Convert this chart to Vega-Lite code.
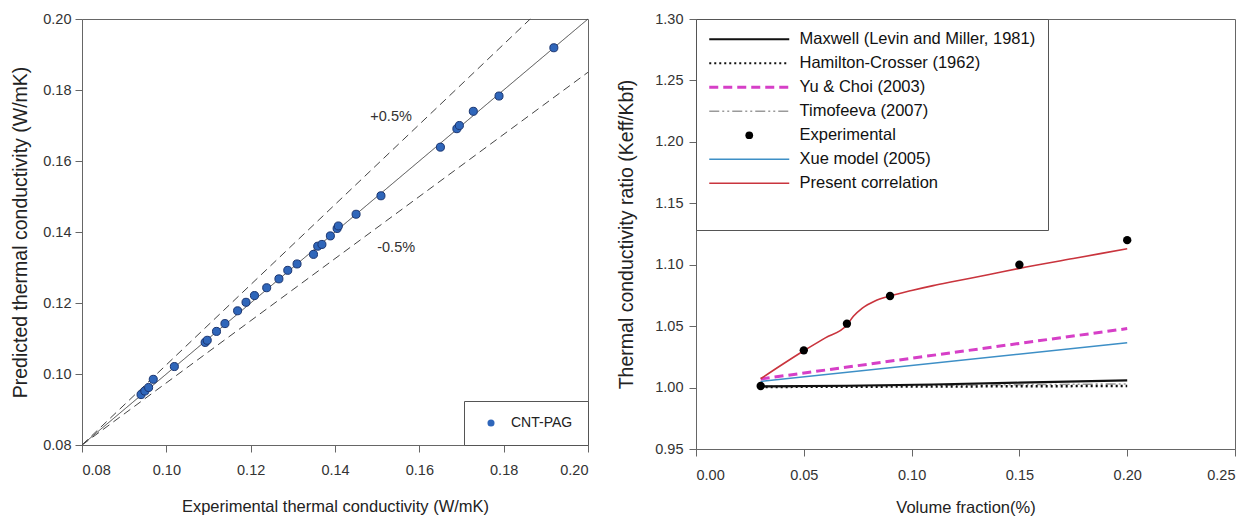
{
  "$schema": "https://vega.github.io/schema/vega-lite/v6.json",
  "background": "white",
  "padding": {"left": 10, "top": 10, "right": 5, "bottom": 0},
  "spacing": 25,
  "resolve": {"scale": {"color": "independent", "strokeDash": "independent"}, "legend": {"color": "independent", "strokeDash": "independent"}},
  "config": {
    "view": {"stroke": "#666", "strokeWidth": 1},
    "axis": {
      "domainColor": "#666", "tickColor": "#666", "tickSize": 7, "grid": false,
      "labelFont": "Liberation Sans", "labelFontSize": 14.5, "labelColor": "#333",
      "titleFont": "Liberation Sans", "titleFontSize": 16.5, "titleFontWeight": "normal", "titleColor": "#222"
    },
    "legend": {"labelFont": "Liberation Sans", "titleFont": "Liberation Sans"}
  },
  "datasets": {
    "refs": [
      {"x": 0.08, "y": 0.08, "line": "center"}, {"x": 0.20, "y": 0.20, "line": "center"},
      {"x": 0.08, "y": 0.08, "line": "upper"}, {"x": 0.1863, "y": 0.20, "line": "upper"},
      {"x": 0.08, "y": 0.08, "line": "lower"}, {"x": 0.20, "y": 0.185, "line": "lower"}
    ],
    "cnt": [
      {"exp": 0.0940, "pred": 0.0942}, {"exp": 0.0949, "pred": 0.0952}, {"exp": 0.0958, "pred": 0.0962},
      {"exp": 0.0969, "pred": 0.0985}, {"exp": 0.1019, "pred": 0.1021}, {"exp": 0.1092, "pred": 0.1089},
      {"exp": 0.1097, "pred": 0.1095}, {"exp": 0.1119, "pred": 0.1120}, {"exp": 0.1139, "pred": 0.1142},
      {"exp": 0.1169, "pred": 0.1178}, {"exp": 0.1189, "pred": 0.1202}, {"exp": 0.1209, "pred": 0.1221},
      {"exp": 0.1238, "pred": 0.1243}, {"exp": 0.1267, "pred": 0.1268}, {"exp": 0.1288, "pred": 0.1292},
      {"exp": 0.1310, "pred": 0.1310}, {"exp": 0.1349, "pred": 0.1337}, {"exp": 0.1359, "pred": 0.1360},
      {"exp": 0.1369, "pred": 0.1365}, {"exp": 0.1389, "pred": 0.1389}, {"exp": 0.1405, "pred": 0.1410},
      {"exp": 0.1408, "pred": 0.1417}, {"exp": 0.1450, "pred": 0.1450}, {"exp": 0.1509, "pred": 0.1502},
      {"exp": 0.1650, "pred": 0.1639}, {"exp": 0.1689, "pred": 0.1691}, {"exp": 0.1695, "pred": 0.1700},
      {"exp": 0.1728, "pred": 0.1740}, {"exp": 0.1789, "pred": 0.1783}, {"exp": 0.1919, "pred": 0.1919}
    ],
    "notes": [
      {"x": 0.1533, "y": 0.1723, "label": "+0.5%"},
      {"x": 0.1545, "y": 0.1355, "label": "-0.5%"}
    ],
    "models": [
      {"vf": 0.03, "k": 1.0008, "model": "Timofeeva (2007)"}, {"vf": 0.20, "k": 1.003, "model": "Timofeeva (2007)"},
      {"vf": 0.03, "k": 1.0005, "model": "Hamilton-Crosser (1962)"}, {"vf": 0.20, "k": 1.0013, "model": "Hamilton-Crosser (1962)"},
      {"vf": 0.03, "k": 1.001, "model": "Maxwell (Levin and Miller, 1981)"}, {"vf": 0.07, "k": 1.0015, "model": "Maxwell (Levin and Miller, 1981)"},
      {"vf": 0.11, "k": 1.0025, "model": "Maxwell (Levin and Miller, 1981)"}, {"vf": 0.15, "k": 1.004, "model": "Maxwell (Levin and Miller, 1981)"},
      {"vf": 0.20, "k": 1.0059, "model": "Maxwell (Levin and Miller, 1981)"},
      {"vf": 0.03, "k": 1.005, "model": "Xue model (2005)"}, {"vf": 0.20, "k": 1.0365, "model": "Xue model (2005)"},
      {"vf": 0.03, "k": 1.007, "model": "Yu & Choi (2003)"}, {"vf": 0.20, "k": 1.048, "model": "Yu & Choi (2003)"},
      {"vf": 0.03, "k": 1.0072, "model": "Present correlation"}, {"vf": 0.04, "k": 1.0188, "model": "Present correlation"},
      {"vf": 0.05, "k": 1.030, "model": "Present correlation"}, {"vf": 0.06, "k": 1.0405, "model": "Present correlation"},
      {"vf": 0.07, "k": 1.051, "model": "Present correlation"}, {"vf": 0.073, "k": 1.058, "model": "Present correlation"},
      {"vf": 0.077, "k": 1.0645, "model": "Present correlation"}, {"vf": 0.083, "k": 1.0705, "model": "Present correlation"},
      {"vf": 0.09, "k": 1.0745, "model": "Present correlation"}, {"vf": 0.10, "k": 1.079, "model": "Present correlation"},
      {"vf": 0.11, "k": 1.083, "model": "Present correlation"}, {"vf": 0.12, "k": 1.0865, "model": "Present correlation"},
      {"vf": 0.136, "k": 1.092, "model": "Present correlation"}, {"vf": 0.15, "k": 1.097, "model": "Present correlation"},
      {"vf": 0.175, "k": 1.105, "model": "Present correlation"}, {"vf": 0.20, "k": 1.113, "model": "Present correlation"}
    ],
    "experimental": [
      {"vf": 0.03, "k": 1.0013, "model": "Experimental"}, {"vf": 0.05, "k": 1.0303, "model": "Experimental"},
      {"vf": 0.07, "k": 1.052, "model": "Experimental"}, {"vf": 0.09, "k": 1.0745, "model": "Experimental"},
      {"vf": 0.15, "k": 1.100, "model": "Experimental"}, {"vf": 0.20, "k": 1.120, "model": "Experimental"}
    ]
  },
  "hconcat": [
    {
      "width": 506,
      "height": 426,
      "encoding": {
        "x": {"type": "quantitative", "scale": {"domain": [0.08, 0.2], "nice": false, "zero": false},
              "axis": {"title": "Experimental thermal conductivity (W/mK)", "values": [0.08, 0.1, 0.12, 0.14, 0.16, 0.18, 0.2], "format": ".2f", "labelPadding": 11, "titlePadding": 22}},
        "y": {"type": "quantitative", "scale": {"domain": [0.08, 0.2], "nice": false, "zero": false},
              "axis": {"title": "Predicted thermal conductivity (W/mK)", "values": [0.08, 0.1, 0.12, 0.14, 0.16, 0.18, 0.2], "format": ".2f", "labelPadding": 4, "titlePadding": 12, "titleFontSize": 19.5}}
      },
      "layer": [
        {
          "data": {"name": "refs"},
          "mark": {"type": "line", "strokeWidth": 1, "color": "#444"},
          "encoding": {
            "x": {"field": "x", "type": "quantitative"},
            "y": {"field": "y", "type": "quantitative"},
            "detail": {"field": "line", "type": "nominal"},
            "strokeDash": {"field": "line", "type": "nominal", "scale": {"domain": ["center", "upper", "lower"], "range": [[1, 0], [8, 5], [8, 5]]}, "legend": null}
          }
        },
        {
          "data": {"name": "cnt"},
          "mark": {"type": "circle", "size": 65, "stroke": "#1b3570", "strokeWidth": 1, "opacity": 1},
          "encoding": {
            "x": {"field": "exp", "type": "quantitative"},
            "y": {"field": "pred", "type": "quantitative"},
            "color": {"datum": "CNT-PAG", "type": "nominal", "scale": {"domain": ["CNT-PAG"], "range": ["#2f66ba"]},
              "legend": {"orient": "bottom-right", "offset": 0, "title": null, "padding": 15, "strokeColor": "#555", "fillColor": "white",
                         "labelFontSize": 14, "labelColor": "#222", "symbolSize": 50, "symbolType": "circle", "symbolOffset": 5, "labelOffset": 13, "symbolStrokeWidth": 0}}
          }
        },
        {
          "data": {"name": "notes"},
          "mark": {"type": "text", "font": "Liberation Sans", "fontSize": 14.5, "color": "#333"},
          "encoding": {
            "x": {"field": "x", "type": "quantitative"},
            "y": {"field": "y", "type": "quantitative"},
            "text": {"field": "label", "type": "nominal"}
          }
        }
      ]
    },
    {
      "width": 539,
      "height": 430,
      "encoding": {
        "x": {"type": "quantitative", "scale": {"domain": [0, 0.25], "nice": false, "zero": false},
              "axis": {"title": "Volume fraction(%)", "values": [0, 0.05, 0.1, 0.15, 0.2, 0.25], "format": ".2f", "labelPadding": 12, "titlePadding": 18}},
        "y": {"type": "quantitative", "scale": {"domain": [0.95, 1.3], "nice": false, "zero": false},
              "axis": {"title": "Thermal conductivity ratio (Keff/Kbf)", "values": [0.95, 1.0, 1.05, 1.1, 1.15, 1.2, 1.25, 1.3], "format": ".2f", "labelPadding": 6, "titlePadding": 18, "titleFontSize": 19.5}}
      },
      "layer": [
        {
          "data": {"name": "models"},
          "transform": [{"filter": "datum.model === 'Timofeeva (2007)'"}],
          "mark": {"type": "line", "strokeWidth": 1.5, "strokeDash": [10, 3, 2, 3, 2, 3]},
          "encoding": {
            "x": {"field": "vf", "type": "quantitative"},
            "y": {"field": "k", "type": "quantitative"},
            "color": {"field": "model", "type": "nominal",
              "scale": {"domain": ["Maxwell (Levin and Miller, 1981)", "Hamilton-Crosser (1962)", "Yu & Choi (2003)", "Timofeeva (2007)", "Experimental", "Xue model (2005)", "Present correlation"],
                        "range": ["#111111", "#111111", "#d63fc7", "#9a9a9a", "#000000", "#3d8fc6", "#c9343d"]},
              "legend": {
                "orient": "top-left", "offset": 0, "title": " ", "titleOrient": "bottom", "titleFontSize": 18, "titlePadding": 8,
                "padding": 12, "strokeColor": "#555", "fillColor": "white",
                "labelFontSize": 16.5, "labelColor": "#111", "labelLimit": 400,
                "symbolSize": 100, "symbolOffset": 33, "labelOffset": 42, "rowPadding": 7,
                "encode": {
                  "symbols": {
                    "update": {
                      "shape": {"signal": "datum.value === 'Experimental' ? 'circle' : 'M-8,0H8'"},
                      "size": {"signal": "datum.value === 'Experimental' ? 60 : 100"},
                      "fill": {"signal": "datum.value === 'Experimental' ? '#000000' : 'transparent'"},
                      "strokeWidth": {"signal": "datum.value === 'Experimental' ? 0 : datum.value === 'Yu & Choi (2003)' ? 3 : (datum.value === 'Maxwell (Levin and Miller, 1981)' || datum.value === 'Hamilton-Crosser (1962)') ? 2.2 : 1.6"},
                      "strokeDash": {"signal": "datum.value === 'Hamilton-Crosser (1962)' ? [2, 3] : datum.value === 'Yu & Choi (2003)' ? [9, 5] : datum.value === 'Timofeeva (2007)' ? [10, 3, 2, 3, 2, 3] : [1, 0]"}
                    }
                  }
                }
              }
            }
          }
        },
        {
          "data": {"name": "models"},
          "transform": [{"filter": "datum.model === 'Hamilton-Crosser (1962)'"}],
          "mark": {"type": "line", "strokeWidth": 2.5, "strokeDash": [2, 3]},
          "encoding": {
            "x": {"field": "vf", "type": "quantitative"},
            "y": {"field": "k", "type": "quantitative"},
            "color": {"field": "model", "type": "nominal",
              "scale": {"domain": ["Maxwell (Levin and Miller, 1981)", "Hamilton-Crosser (1962)", "Yu & Choi (2003)", "Timofeeva (2007)", "Experimental", "Xue model (2005)", "Present correlation"],
                        "range": ["#111111", "#111111", "#d63fc7", "#9a9a9a", "#000000", "#3d8fc6", "#c9343d"]}, "legend": null}
          }
        },
        {
          "data": {"name": "models"},
          "transform": [{"filter": "datum.model === 'Maxwell (Levin and Miller, 1981)'"}],
          "mark": {"type": "line", "strokeWidth": 2.2},
          "encoding": {
            "x": {"field": "vf", "type": "quantitative"},
            "y": {"field": "k", "type": "quantitative"},
            "color": {"field": "model", "type": "nominal",
              "scale": {"domain": ["Maxwell (Levin and Miller, 1981)", "Hamilton-Crosser (1962)", "Yu & Choi (2003)", "Timofeeva (2007)", "Experimental", "Xue model (2005)", "Present correlation"],
                        "range": ["#111111", "#111111", "#d63fc7", "#9a9a9a", "#000000", "#3d8fc6", "#c9343d"]}, "legend": null}
          }
        },
        {
          "data": {"name": "models"},
          "transform": [{"filter": "datum.model === 'Xue model (2005)'"}],
          "mark": {"type": "line", "strokeWidth": 1.6},
          "encoding": {
            "x": {"field": "vf", "type": "quantitative"},
            "y": {"field": "k", "type": "quantitative"},
            "color": {"field": "model", "type": "nominal",
              "scale": {"domain": ["Maxwell (Levin and Miller, 1981)", "Hamilton-Crosser (1962)", "Yu & Choi (2003)", "Timofeeva (2007)", "Experimental", "Xue model (2005)", "Present correlation"],
                        "range": ["#111111", "#111111", "#d63fc7", "#9a9a9a", "#000000", "#3d8fc6", "#c9343d"]}, "legend": null}
          }
        },
        {
          "data": {"name": "models"},
          "transform": [{"filter": "datum.model === 'Yu & Choi (2003)'"}],
          "mark": {"type": "line", "strokeWidth": 3, "strokeDash": [9, 5]},
          "encoding": {
            "x": {"field": "vf", "type": "quantitative"},
            "y": {"field": "k", "type": "quantitative"},
            "color": {"field": "model", "type": "nominal",
              "scale": {"domain": ["Maxwell (Levin and Miller, 1981)", "Hamilton-Crosser (1962)", "Yu & Choi (2003)", "Timofeeva (2007)", "Experimental", "Xue model (2005)", "Present correlation"],
                        "range": ["#111111", "#111111", "#d63fc7", "#9a9a9a", "#000000", "#3d8fc6", "#c9343d"]}, "legend": null}
          }
        },
        {
          "data": {"name": "models"},
          "transform": [{"filter": "datum.model === 'Present correlation'"}],
          "mark": {"type": "line", "strokeWidth": 1.6, "interpolate": "monotone"},
          "encoding": {
            "x": {"field": "vf", "type": "quantitative"},
            "y": {"field": "k", "type": "quantitative"},
            "color": {"field": "model", "type": "nominal",
              "scale": {"domain": ["Maxwell (Levin and Miller, 1981)", "Hamilton-Crosser (1962)", "Yu & Choi (2003)", "Timofeeva (2007)", "Experimental", "Xue model (2005)", "Present correlation"],
                        "range": ["#111111", "#111111", "#d63fc7", "#9a9a9a", "#000000", "#3d8fc6", "#c9343d"]}, "legend": null}
          }
        },
        {
          "data": {"name": "experimental"},
          "mark": {"type": "circle", "size": 70, "opacity": 1},
          "encoding": {
            "x": {"field": "vf", "type": "quantitative"},
            "y": {"field": "k", "type": "quantitative"},
            "color": {"field": "model", "type": "nominal",
              "scale": {"domain": ["Maxwell (Levin and Miller, 1981)", "Hamilton-Crosser (1962)", "Yu & Choi (2003)", "Timofeeva (2007)", "Experimental", "Xue model (2005)", "Present correlation"],
                        "range": ["#111111", "#111111", "#d63fc7", "#9a9a9a", "#000000", "#3d8fc6", "#c9343d"]}, "legend": null}
          }
        }
      ]
    }
  ]
}
